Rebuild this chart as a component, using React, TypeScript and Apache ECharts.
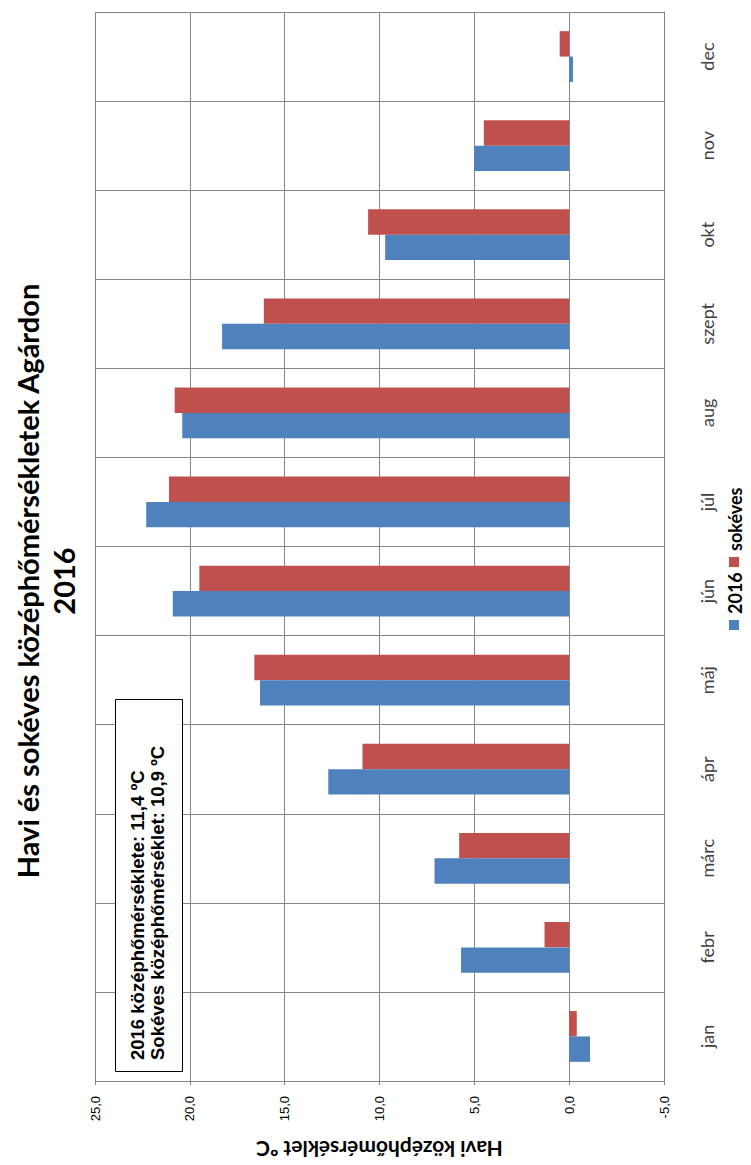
import React, { useEffect, useRef } from 'react';
import * as echarts from 'echarts';

const months = ['jan', 'febr', 'márc', 'ápr', 'máj', 'jún', 'júl', 'aug', 'szept', 'okt', 'nov', 'dec'];
const values2016 = [-1.1, 5.7, 7.1, 12.7, 16.3, 20.9, 22.3, 20.4, 18.3, 9.7, 5.0, -0.2];
const valuesLongTerm = [-0.4, 1.3, 5.8, 10.9, 16.6, 19.5, 21.1, 20.8, 16.1, 10.6, 4.5, 0.5];
const seriesNames = ['2016', 'sokéves'];
const seriesColors = ['#4F81BD', '#C0504D'];
const titleLines = ['Havi és sokéves középhőmérsékletek Agárdon', '2016'];
const axisTitle = 'Havi középhőmérséklet ºC';
const noteLines = ['2016 középhőmérséklete: 11,4 ºC', 'Sokéves középhőmérséklet: 10,9 ºC'];
const valueMin = -5;
const valueMax = 25;
const valueStep = 5;

const GRID = '#868686';
const R = Math.PI / 2;

export default function App() {
  const ref = useRef<HTMLDivElement>(null);
  useEffect(() => {
    if (!ref.current) return;
    const chart = echarts.init(ref.current, null, { renderer: 'svg' });
    const titleFont = 'bold 29px Lato';
    const noteFont = 'bold 18.5px "Liberation Sans"';
    const legendFont = 'bold 18px Lato';
    chart.setOption({
      animation: false,
      backgroundColor: '#ffffff',
      grid: { left: 95, right: 87, top: 12, bottom: 73, containLabel: false },
      xAxis: {
        type: 'value',
        inverse: true,
        min: valueMin,
        max: valueMax,
        interval: valueStep,
        position: 'bottom',
        axisLine: { show: true, onZero: false, lineStyle: { color: GRID, width: 1 } },
        axisTick: { show: true, length: 4, lineStyle: { color: GRID } },
        splitLine: { show: true, lineStyle: { color: GRID, width: 1 } },
        axisLabel: {
          rotate: 90,
          margin: 15,
          fontFamily: 'Liberation Sans',
          fontSize: 13,
          color: '#000',
          formatter: (v: number) => v.toFixed(1).replace('.', ','),
        },
        name: axisTitle,
        nameLocation: 'middle',
        nameRotate: 180,
        nameGap: 58,
        nameTextStyle: { fontFamily: 'Lato', fontWeight: 'bold', fontSize: 21, color: '#000' },
      },
      yAxis: {
        type: 'category',
        data: months,
        position: 'right',
        boundaryGap: true,
        axisLine: { show: true, onZero: false, lineStyle: { color: GRID } },
        axisTick: { show: false, interval: 0 },
        splitLine: { show: true, interval: 0, lineStyle: { color: GRID, width: 1 } },
        axisLabel: {
          rotate: 90,
          margin: 34,
          interval: 0,
          fontFamily: 'Lato',
          fontSize: 18,
          color: '#404040',
        },
      },
      series: [
        {
          name: seriesNames[1],
          type: 'bar',
          data: valuesLongTerm,
          itemStyle: { color: seriesColors[1] },
          barGap: '0%',
          barCategoryGap: '43%',
        },
        {
          name: seriesNames[0],
          type: 'bar',
          data: values2016,
          itemStyle: { color: seriesColors[0] },
          barGap: '0%',
          barCategoryGap: '43%',
        },
      ],
      graphic: [
        {
          type: 'text', x: 27, y: 581, rotation: R,
          style: { text: titleLines[0], font: titleFont, fill: '#000', align: 'center', verticalAlign: 'middle' },
        },
        {
          type: 'text', x: 63, y: 581, rotation: R,
          style: { text: titleLines[1], font: titleFont, fill: '#000', align: 'center', verticalAlign: 'middle' },
        },
        {
          type: 'rect', shape: { x: 115.5, y: 699.5, width: 67, height: 372 },
          style: { fill: '#fff', stroke: '#000', lineWidth: 1 }, z: 100,
        },
        {
          type: 'text', x: 137, y: 1060, rotation: R, z: 101,
          style: { text: noteLines[0], font: noteFont, fill: '#000', align: 'left', verticalAlign: 'middle' },
        },
        {
          type: 'text', x: 157, y: 1060, rotation: R, z: 101,
          style: { text: noteLines[1], font: noteFont, fill: '#000', align: 'left', verticalAlign: 'middle' },
        },
        {
          type: 'rect', shape: { x: 729, y: 620, width: 10, height: 10 },
          style: { fill: seriesColors[0] }, z: 100,
        },
        {
          type: 'text', x: 735, y: 614, rotation: R, z: 101,
          style: { text: seriesNames[0], font: legendFont, fill: '#000', align: 'left', verticalAlign: 'middle' },
        },
        {
          type: 'rect', shape: { x: 729, y: 557, width: 10, height: 10 },
          style: { fill: seriesColors[1] }, z: 100,
        },
        {
          type: 'text', x: 735, y: 551, rotation: R, z: 101,
          style: { text: seriesNames[1], font: legendFont, fill: '#000', align: 'left', verticalAlign: 'middle' },
        },
      ],
    });
    return () => chart.dispose();
  }, []);
  return (
    <div
      ref={ref}
      style={{ position: 'fixed', left: 0, top: 0, width: 751, height: 1165, background: '#fff' }}
    />
  );
}
